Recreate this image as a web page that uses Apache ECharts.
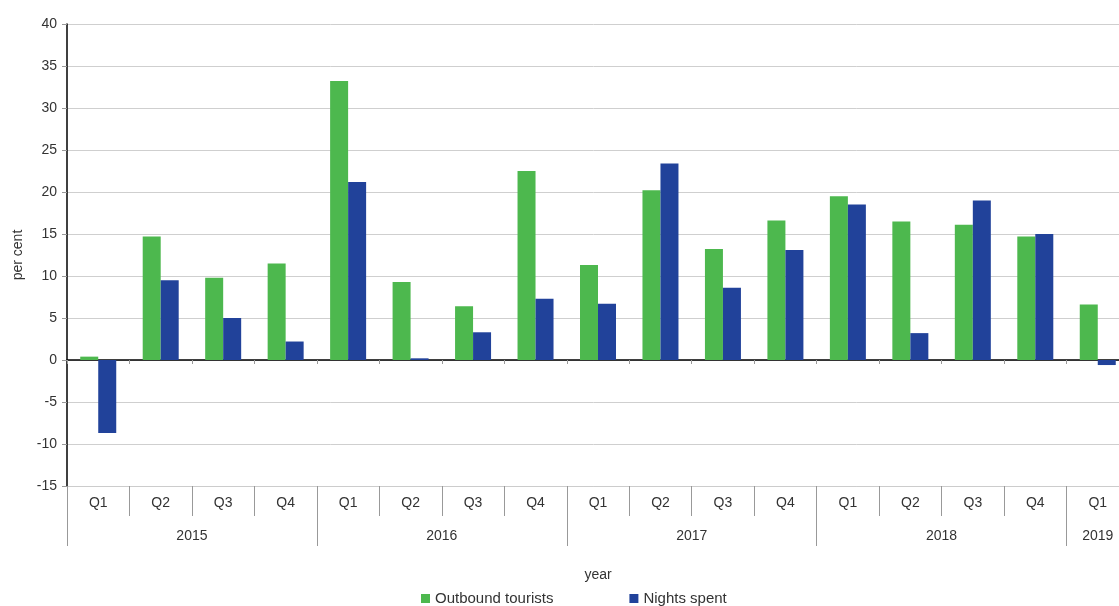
<!DOCTYPE html>
<html>
<head>
<meta charset="utf-8">
<script src="https://cdn.jsdelivr.net/npm/echarts@6/dist/echarts.min.js"></script>
<style>
  html, body { margin: 0; padding: 0; background: #fff; overflow: hidden; }
  #chart { width: 1119px; height: 606px; }
</style>
</head>
<body>
<div id="chart"></div>
<script>
var years = ['2015', '2016', '2017', '2018', '2019'];
var quartersPerYear = [4, 4, 4, 4, 1];
var quarterNames = ['Q1', 'Q2', 'Q3', 'Q4'];

var outbound = [0.4, 14.7, 9.8, 11.5, 33.2, 9.3, 6.4, 22.5, 11.3, 20.2, 13.2, 16.6, 19.5, 16.5, 16.1, 14.7, 6.6];
var nights = [-8.7, 9.5, 5.0, 2.2, 21.2, 0.2, 3.3, 7.3, 6.7, 23.4, 8.6, 13.1, 18.5, 3.2, 19.0, 15.0, -0.6];

// quarter categories and year spans
var categories = [];
var yearBounds = [0];
var yearMids = [];
var yearByMid = {};
years.forEach(function (y, i) {
  var start = categories.length;
  for (var q = 0; q < quartersPerYear[i]; q++) {
    categories.push(quarterNames[q]);
  }
  var end = categories.length;
  yearBounds.push(end);
  var mid = (start + end) / 2;
  yearMids.push(mid);
  yearByMid[mid] = y;
});

var chart = echarts.init(document.getElementById('chart'), null, { renderer: 'canvas' });

var textStyle = { fontFamily: 'Liberation Sans, Arial, sans-serif', color: '#333' };

var option = {
  animation: false,
  textStyle: textStyle,
  // plot runs a little past the right edge of the picture
  grid: { left: 67, right: -10, top: 24, bottom: 120, outerBoundsMode: 'none', containLabel: false },
  legend: {
    top: 586,
    left: 416,
    icon: 'rect',
    itemWidth: 9,
    itemHeight: 9,
    itemGap: 76,
    textStyle: { fontSize: 15, color: '#333', fontFamily: textStyle.fontFamily },
    data: ['Outbound tourists', 'Nights spent']
  },
  xAxis: [
    {
      type: 'category',
      data: categories,
      axisLine: { onZero: true, lineStyle: { color: '#000', width: 1.5 } },
      axisTick: { show: true, length: 4, interval: 0, lineStyle: { color: '#999' } },
      axisLabel: { show: false },
      splitLine: { show: false }
    },
    {
      type: 'category',
      data: categories,
      position: 'bottom',
      axisLine: { onZero: false, lineStyle: { color: '#ccc' } },
      axisTick: { show: true, length: 30, interval: 0, lineStyle: { color: '#999' } },
      axisLabel: { interval: 0, margin: 10, fontSize: 14, color: '#333' },
      splitLine: { show: false }
    },
    {
      type: 'value',
      position: 'bottom',
      offset: 30,
      min: 0,
      max: categories.length,
      name: 'year',
      nameLocation: 'middle',
      nameGap: 52,
      nameTextStyle: { fontSize: 14, color: '#333' },
      axisLine: { show: false, onZero: false },
      axisTick: { show: true, length: 30, customValues: yearBounds, lineStyle: { color: '#999' } },
      axisLabel: {
        customValues: yearMids,
        margin: 13,
        fontSize: 14,
        color: '#333',
        formatter: function (v) { return yearByMid[v] || ''; }
      },
      splitLine: { show: false }
    }
  ],
  yAxis: {
    type: 'value',
    min: -15,
    max: 40,
    interval: 5,
    name: 'per cent',
    nameLocation: 'middle',
    nameGap: 42,
    nameTextStyle: { fontSize: 14, color: '#333' },
    axisLine: { show: true, lineStyle: { color: '#000', width: 1.5 } },
    axisTick: { show: true, length: 5, lineStyle: { color: '#999' } },
    axisLabel: { fontSize: 14, color: '#333', margin: 10 },
    splitLine: { lineStyle: { color: '#cfcfcf' } }
  },
  series: [
    {
      name: 'Outbound tourists',
      type: 'bar',
      xAxisIndex: 0,
      data: outbound,
      barWidth: 18,
      barGap: '0%',
      itemStyle: { color: '#4db84e' }
    },
    {
      name: 'Nights spent',
      type: 'bar',
      xAxisIndex: 0,
      data: nights,
      barWidth: 18,
      barGap: '0%',
      itemStyle: { color: '#21429a' }
    }
  ]
};

chart.setOption(option);
</script>
</body>
</html>
